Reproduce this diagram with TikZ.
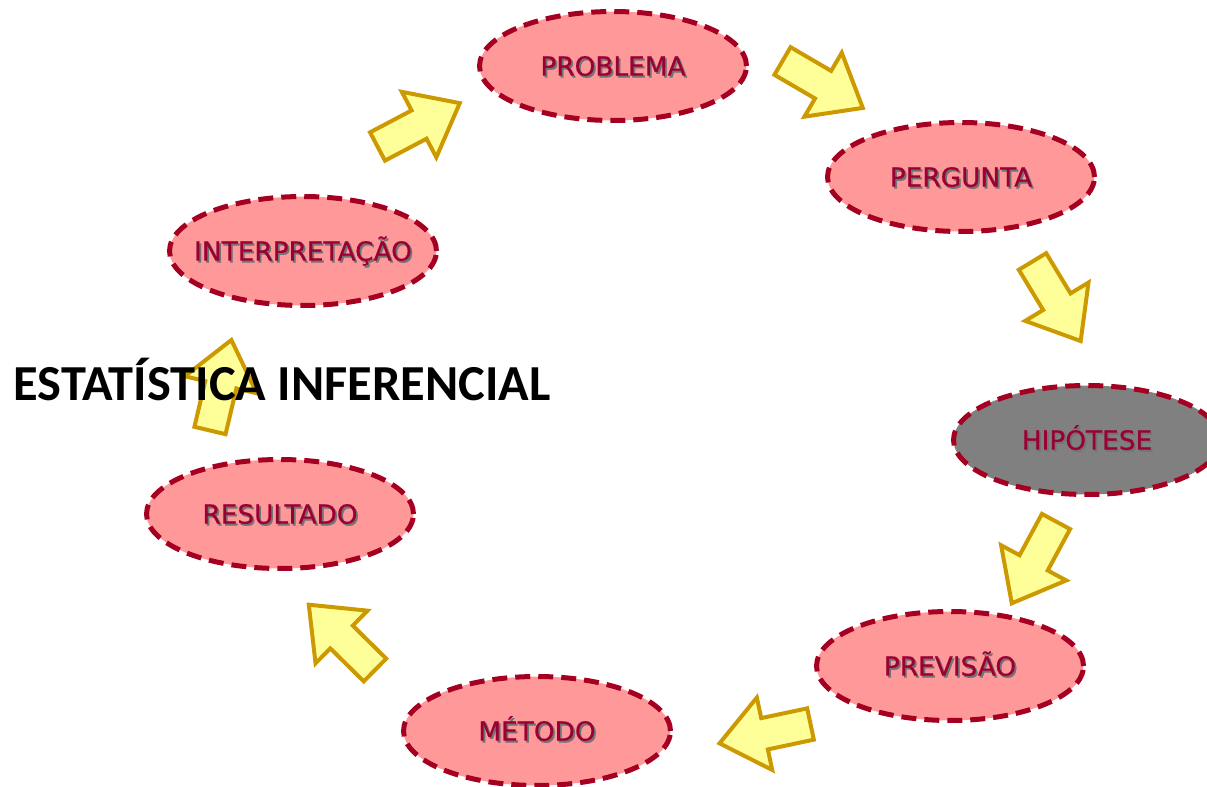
\documentclass[tikz,border=0pt]{standalone}
\usepackage{fontspec}
\setmainfont{DejaVu Sans}
\newfontfamily\titlefont{Carlito}
\newfontfamily\etapafont[FakeBold=0.4]{DejaVu Sans}
\usetikzlibrary{shapes.geometric}
\definecolor{rosa}{HTML}{FF9999}
\definecolor{vinho}{HTML}{A50021}
\definecolor{textovinho}{HTML}{990033}
\definecolor{cinza}{HTML}{808080}
\definecolor{amarelo}{HTML}{FFFF99}
\definecolor{ouro}{HTML}{CC9900}
% text with a soft shadow below right
\newcommand\sombra[1]{\leavevmode\rlap{\kern1pt\raisebox{-1.1pt}{\textcolor{black!55}{#1}}}#1}

\begin{document}
\begin{tikzpicture}[x=0.02cm, y=-0.02cm,
    etapa/.style={ellipse, draw=vinho, fill=rosa, line width=0.1cm,
      dash pattern=on 0.3cm off 0.16cm, minimum width=5.34cm, minimum height=2.18cm,
      inner ysep=0pt, inner xsep=-30pt, text height=11pt, text depth=0pt,
      font=\etapafont\fontsize{15}{18}\selectfont, text=textovinho},
    seta/.style={draw=ouro, fill=amarelo, line width=0.08cm, line join=miter}]
	% Fix the page size.
	\useasboundingbox (0,0) rectangle (1207,787);

	% Block arrows of the cycle.
	\foreach \tx/\ty/\ang in {377.5/146.5/27.8, 782.5/61/-30.3, 1032.5/261.5/-58.8,
	    1056/521.5/-118.4, 810.5/724/-168, 375/670/135.4, 210/430.5/76.7}
	  \draw[seta, shift={(\tx,\ty)}, rotate=\ang]
	    (0,-16) -- (47,-16) -- (47,-37) -- (93,0) -- (47,37) -- (47,16) -- (0,16) -- cycle;

	\node[anchor=base] (titulo) at (282,400)
	  {\titlefont\bfseries\fontsize{28.7}{30}\selectfont ESTATÍSTICA INFERENCIAL};

	% Steps.
	\node[etapa] (problema) at (613,66) {\sombra{PROBLEMA}};
	\node[etapa] (pergunta) at (961,177) {\sombra{PERGUNTA}};
	\node[etapa, fill=cinza] (hipotese) at (1087,440) {\sombra{HIPÓTESE}};
	\node[etapa] (previsao) at (950,666) {\sombra{PREVISÃO}};
	\node[etapa] (metodo) at (537,731) {\sombra{MÉTODO}};
	\node[etapa] (resultado) at (280,514) {\sombra{RESULTADO}};
	\node[etapa] (interpretacao) at (303,251) {\sombra{INTERPRETAÇÃO}};
\end{tikzpicture}
\end{document}
